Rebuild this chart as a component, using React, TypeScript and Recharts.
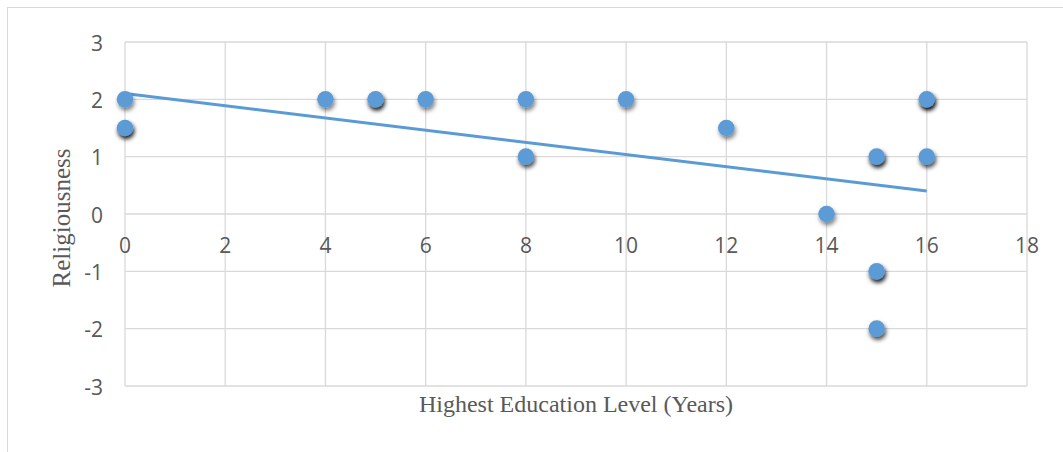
import React from 'react';
import { ScatterChart, Scatter, XAxis, YAxis, CartesianGrid } from 'recharts';

const EDU = [0, 0, 4, 5, 6, 8, 8, 10, 12, 14, 15, 15, 15, 16, 16];
const REL = [2, 1.5, 2, 2, 2, 2, 1, 2, 1.5, 0, 1, -1, -2, 2, 1];
const OVERLAP = [1, 3, 1, 3, 1, 1, 2, 1, 1, 1, 3, 3, 2, 4, 2];
const X_TICKS = [0, 2, 4, 6, 8, 10, 12, 14, 16, 18];
const Y_TICKS = [-3, -2, -1, 0, 1, 2, 3];
const TREND_X = [0, 16];
const TREND_Y = [2.1, 0.4];

const points = EDU.map((x, i) => ({ x, y: REL[i], count: OVERLAP[i] }));
const trend = TREND_X.map((x, i) => ({ x, y: TREND_Y[i] }));

const W = 1063;
const H = 452;
const X_AXIS_H = 30;
const M = { top: 42, right: 36, bottom: 66 - X_AXIS_H, left: 65 };
const PLOT_H = H - M.top - M.bottom - X_AXIS_H;
const BLUE = '#5b9bd5';
const GRID = '#d9d9d9';
const TEXT = '#595959';
const TICK_FONT = '"Open Sans", "Noto Sans", sans-serif';
const TITLE_FONT = '"Liberation Serif", "DejaVu Serif", serif';
const SHADOW_OPACITY = [0, 0.5, 0.72, 0.9, 1];

const XTick = (props: any) => {
  const { x, y, payload } = props;
  return (
    <text x={x} y={y - PLOT_H / 2 + 31} dy="0.36em" textAnchor="middle" fill={TEXT} fontSize={21} fontFamily={TICK_FONT}>
      {payload.value}
    </text>
  );
};

const YTick = (props: any) => {
  const { x, y, payload } = props;
  return (
    <text x={x} y={y + 1} dy="0.36em" textAnchor="end" fill={TEXT} fontSize={21} fontFamily={TICK_FONT}>
      {payload.value}
    </text>
  );
};

const Dot = (props: any) => {
  const { cx, cy, payload } = props;
  if (cx == null || cy == null) return <g />;
  return <circle cx={cx} cy={cy} r={8.3} fill={BLUE} filter={`url(#sh${payload.count})`} />;
};

export default function App() {
  return (
    <div style={{ position: 'absolute', left: 0, top: 0, width: W, height: H, overflow: 'hidden', background: '#fff' }}>
      <div style={{ position: 'absolute', left: 7, top: 7, width: W, height: H, borderLeft: `1.5px solid ${GRID}`, borderTop: `1.5px solid ${GRID}` }} />
      <div style={{ position: 'absolute', left: 0, top: 0 }}>
        <ScatterChart width={W} height={H} margin={M}>
          <defs>
            {[1, 2, 3, 4].map((c) => (
              <filter key={c} id={`sh${c}`} x="-100%" y="-100%" width="300%" height="300%">
                <feDropShadow dx={1.2} dy={3} stdDeviation={2.2} floodColor="#000" floodOpacity={SHADOW_OPACITY[c]} />
              </filter>
            ))}
          </defs>
          <CartesianGrid stroke={GRID} strokeWidth={1.3} />
          <XAxis
            type="number"
            dataKey="x"
            domain={[0, 18]}
            ticks={X_TICKS}
            interval={0}
            height={X_AXIS_H}
            axisLine={false}
            tickLine={false}
            tickSize={0}
            tickMargin={0}
            tick={<XTick />}
            label={{
              content: () => (
                <text x={576} y={404} dominantBaseline="central" textAnchor="middle" fill={TEXT} fontSize={24} fontFamily={TITLE_FONT}>
                  Highest Education Level (Years)
                </text>
              ),
            }}
          />
          <YAxis
            type="number"
            dataKey="y"
            domain={[-3, 3]}
            ticks={Y_TICKS}
            interval={0}
            width={60}
            axisLine={false}
            tickLine={false}
            tickSize={0}
            tickMargin={22}
            tick={<YTick />}
            label={{
              content: () => (
                <text transform="translate(61,218) rotate(-90)" textAnchor="middle" dominantBaseline="central" fill={TEXT} fontSize={25} fontFamily={TITLE_FONT}>
                  Religiousness
                </text>
              ),
            }}
          />
          <Scatter data={trend} line={{ stroke: BLUE, strokeWidth: 3 }} shape={() => <g />} isAnimationActive={false} />
          <Scatter data={points} shape={<Dot />} isAnimationActive={false} />
        </ScatterChart>
      </div>
    </div>
  );
}
